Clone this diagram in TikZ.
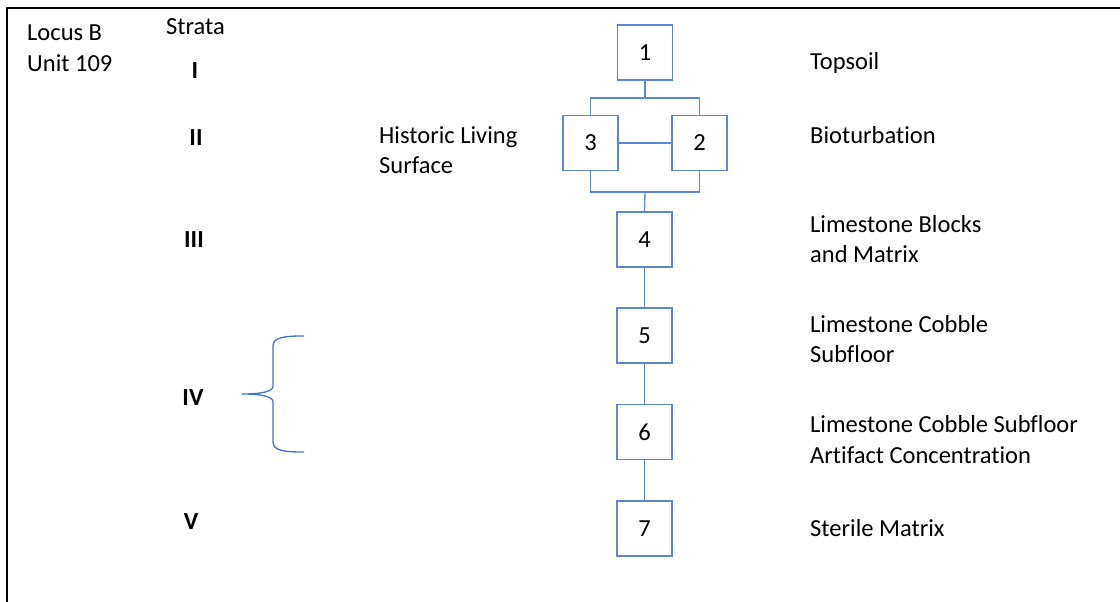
\documentclass[tikz,border=0pt]{standalone}
\usepackage{fontspec}
\setmainfont{Carlito}[Ligatures=NoCommon]
\definecolor{boxblue}{HTML}{4472C4}
\begin{document}
\begin{tikzpicture}[x=1pt,y=-1pt,
  unitbox/.style={draw=boxblue!85, line width=1.3pt, minimum width=55pt, minimum height=55pt, inner sep=0pt, font=\fontsize{24.5}{29}\selectfont},
  conn/.style={draw=boxblue!85, line width=1.3pt},
  lbl/.style={anchor=west, align=left, inner sep=0pt, font=\fontsize{24.5}{30.5}\selectfont},
  roman/.style={inner sep=0pt, font=\fontsize{24.5}{29}\selectfont\bfseries},
  brace/.style={draw=boxblue, line width=1.3pt}]
\useasboundingbox (0,0) rectangle (1120,602);
% frame
\draw[line width=2pt] (7,602) -- (7,8) -- (1120,8);
% header
\node[lbl, anchor=base west] (locus) at (27,41) {Locus B};
\node[lbl, anchor=base west] (unit) at (27,72) {Unit 109};
\node[lbl, anchor=base west] (strata) at (166,35) {Strata};
% roman numerals
\node[roman] (r1) at (195,71) {I};
\node[roman] (r2) at (196,138) {II};
\node[roman] (r3) at (194,240) {III};
\node[roman] (r4) at (193,398) {IV};
\node[roman] (r5) at (191,522) {V};
% boxes
\node[unitbox] (b1) at (645,52.5) {1};
\node[unitbox] (b3) at (590.5,143) {3};
\node[unitbox] (b2) at (699.5,143) {2};
\node[unitbox] (b4) at (644.5,239.5) {4};
\node[unitbox] (b5) at (644.5,335.5) {5};
\node[unitbox] (b6) at (644.5,432) {6};
\node[unitbox] (b7) at (644.5,528.5) {7};
% connectors
\coordinate (jt) at (645,98);
\coordinate (jb) at (645,192);
\draw[conn] (b1.south) -- (jt);
\draw[conn] (b3.north) |- (jt) -| (b2.north);
\draw[conn] (b3.east) -- (b2.west);
\draw[conn] (b3.south) |- (jb) -| (b2.south);
\draw[conn] (jb) -- (b4.north);
\draw[conn] (b4.south) -- (b5.north);
\draw[conn] (b5.south) -- (b6.north);
\draw[conn] (b6.south) -- (b7.north);
% labels
\node[lbl] (hist) at (379,150) {Historic Living\\Surface};
\node[lbl] (l1) at (810,63) {Topsoil};
\node[lbl] (l2) at (810,135) {Bioturbation};
\node[lbl] (l4) at (810,239) {Limestone Blocks\\and Matrix};
\node[lbl] (l5) at (810,339) {Limestone Cobble\\Subfloor};
\node[lbl] (l6) at (810,439.5) {Limestone Cobble Subfloor\\Artifact Concentration};
\node[lbl] (l7) at (810,528) {Sterile Matrix};
% brace
\draw[brace] (304,336) .. controls (285,336) and (273,337) .. (273,346)
  -- (273,386) .. controls (273,392) and (260,394) .. (242,394)
  .. controls (260,394) and (273,396) .. (273,402)
  -- (273,442) .. controls (273,451) and (285,452) .. (304,452);
\end{tikzpicture}
\end{document}
